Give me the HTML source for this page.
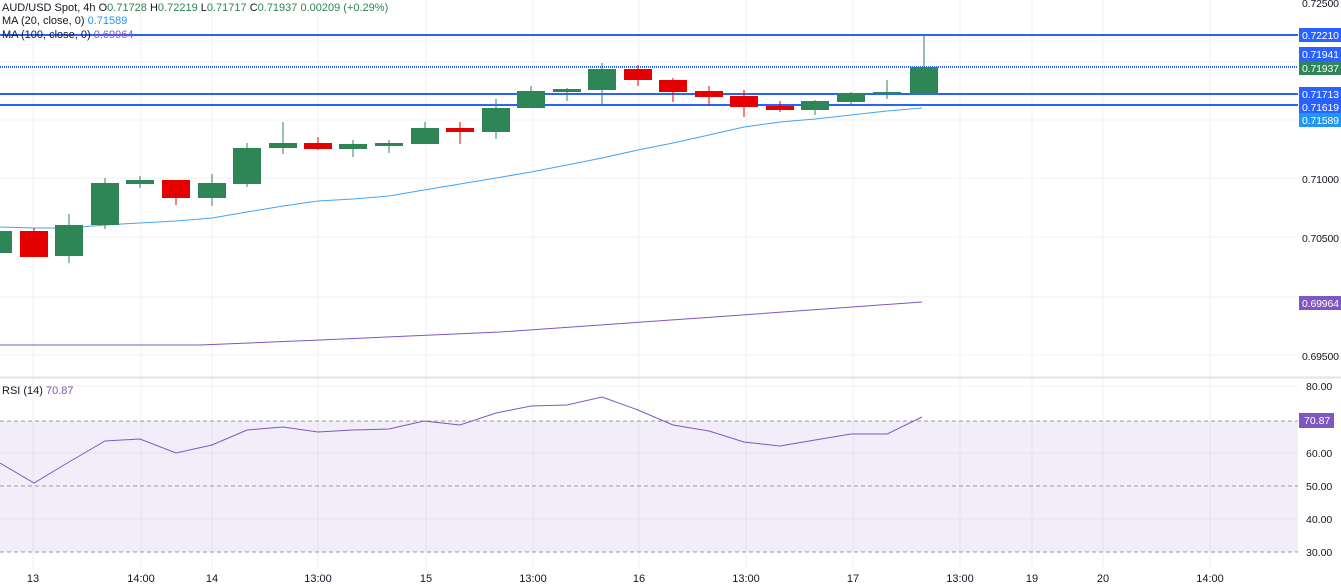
<!DOCTYPE html><html><head><meta charset="utf-8"><style>
body{margin:0;background:#fff;}svg{display:block;font-family:"Liberation Sans",sans-serif;}
</style></head><body>
<svg width="1341" height="586" xmlns="http://www.w3.org/2000/svg">
<g stroke="#f0f1f4" stroke-width="1">
<line x1="0" y1="62" x2="1298" y2="62"/><line x1="0" y1="120" x2="1298" y2="120"/><line x1="0" y1="178" x2="1298" y2="178"/><line x1="0" y1="237" x2="1298" y2="237"/><line x1="0" y1="297" x2="1298" y2="297"/><line x1="0" y1="355" x2="1298" y2="355"/>
<line x1="0" y1="386" x2="1298" y2="386"/><line x1="0" y1="453" x2="1298" y2="453"/><line x1="0" y1="519" x2="1298" y2="519"/>
<line x1="33" y1="0" x2="33" y2="568"/><line x1="141" y1="0" x2="141" y2="568"/><line x1="212" y1="0" x2="212" y2="568"/><line x1="318" y1="0" x2="318" y2="568"/><line x1="426" y1="0" x2="426" y2="568"/><line x1="533" y1="0" x2="533" y2="568"/><line x1="639" y1="0" x2="639" y2="568"/><line x1="746" y1="0" x2="746" y2="568"/><line x1="853" y1="0" x2="853" y2="568"/><line x1="960" y1="0" x2="960" y2="568"/><line x1="1032" y1="0" x2="1032" y2="568"/><line x1="1103" y1="0" x2="1103" y2="568"/><line x1="1210" y1="0" x2="1210" y2="568"/>
</g>
<line x1="0" y1="377.5" x2="1341" y2="377.5" stroke="#e0e3eb" stroke-width="2"/>
<rect x="0" y="421" width="1298" height="131" fill="#7e57c2" fill-opacity="0.1"/>
<g stroke="#9598a1" stroke-dasharray="4,3"><line x1="0" y1="421" x2="1298" y2="421"/><line x1="0" y1="486" x2="1298" y2="486"/><line x1="0" y1="552" x2="1298" y2="552"/></g>
<polyline fill="none" stroke="#7e57c2" stroke-width="1" points="0,463 34,483 69,462 105,441 140,439 176,453 212,445 247,430 283,427 318,432 353,430 389,429 424,421 460,425 496,413 531,406 567,405 602,397 638,410 673,425 709,431 744,442 780,446 815,440 851,434 887,434 922,417"/>
<polyline fill="none" stroke="#7e57c2" stroke-width="1" points="0,345 200,345 320,340 500,332 700,318 922,302"/>
<polyline fill="none" stroke="#42a5f5" stroke-width="1" points="0,227 34,228 69,228 105,225 140,223 176,221 212,218 247,212 283,206 318,201 353,199 389,196 424,190 460,184 496,178 531,172 567,165 602,158 638,150 673,143 709,135 744,127 780,122 815,119 851,115 887,111 922,108"/>
<g stroke="#2962ff" stroke-width="2"><line x1="0" y1="35" x2="1298" y2="35"/><line x1="0" y1="94" x2="1298" y2="94"/><line x1="0" y1="105" x2="1298" y2="105"/><line x1="0" y1="67" x2="1298" y2="67" stroke-dasharray="1,1"/></g>
<g stroke-width="1">
<line x1="-2" y1="225" x2="-2" y2="255" stroke="#2e8555"/><rect x="-16" y="231" width="28" height="22" fill="#2e8555"/>
<line x1="34" y1="228" x2="34" y2="257" stroke="#e50000"/><rect x="20" y="231" width="28" height="26" fill="#e50000"/>
<line x1="69" y1="214" x2="69" y2="263" stroke="#2e8555"/><rect x="55" y="225" width="28" height="31" fill="#2e8555"/>
<line x1="105" y1="178" x2="105" y2="229" stroke="#2e8555"/><rect x="91" y="183" width="28" height="42" fill="#2e8555"/>
<line x1="140" y1="176" x2="140" y2="188" stroke="#2e8555"/><rect x="126" y="180" width="28" height="4" fill="#2e8555"/>
<line x1="176" y1="180" x2="176" y2="205" stroke="#e50000"/><rect x="162" y="180" width="28" height="18" fill="#e50000"/>
<line x1="212" y1="174" x2="212" y2="206" stroke="#2e8555"/><rect x="198" y="183" width="28" height="15" fill="#2e8555"/>
<line x1="247" y1="143" x2="247" y2="187" stroke="#2e8555"/><rect x="233" y="148" width="28" height="36" fill="#2e8555"/>
<line x1="283" y1="122" x2="283" y2="154" stroke="#2e8555"/><rect x="269" y="143" width="28" height="5" fill="#2e8555"/>
<line x1="318" y1="137" x2="318" y2="150" stroke="#e50000"/><rect x="304" y="143" width="28" height="6" fill="#e50000"/>
<line x1="353" y1="140" x2="353" y2="157" stroke="#2e8555"/><rect x="339" y="144" width="28" height="5" fill="#2e8555"/>
<line x1="389" y1="140" x2="389" y2="153" stroke="#2e8555"/><rect x="375" y="143" width="28" height="3" fill="#2e8555"/>
<line x1="425" y1="122" x2="425" y2="144" stroke="#2e8555"/><rect x="411" y="128" width="28" height="16" fill="#2e8555"/>
<line x1="460" y1="122" x2="460" y2="144" stroke="#e50000"/><rect x="446" y="128" width="28" height="4" fill="#e50000"/>
<line x1="496" y1="99" x2="496" y2="139" stroke="#2e8555"/><rect x="482" y="108" width="28" height="24" fill="#2e8555"/>
<line x1="531" y1="86" x2="531" y2="108" stroke="#2e8555"/><rect x="517" y="91" width="28" height="17" fill="#2e8555"/>
<line x1="567" y1="88" x2="567" y2="101" stroke="#2e8555"/><rect x="553" y="89" width="28" height="3" fill="#2e8555"/>
<line x1="602" y1="63" x2="602" y2="104" stroke="#2e8555"/><rect x="588" y="69" width="28" height="21" fill="#2e8555"/>
<line x1="638" y1="65" x2="638" y2="86" stroke="#e50000"/><rect x="624" y="69" width="28" height="11" fill="#e50000"/>
<line x1="673" y1="78" x2="673" y2="102" stroke="#e50000"/><rect x="659" y="80" width="28" height="12" fill="#e50000"/>
<line x1="709" y1="86" x2="709" y2="106" stroke="#e50000"/><rect x="695" y="91" width="28" height="6" fill="#e50000"/>
<line x1="744" y1="90" x2="744" y2="117" stroke="#e50000"/><rect x="730" y="96" width="28" height="11" fill="#e50000"/>
<line x1="780" y1="101" x2="780" y2="112" stroke="#e50000"/><rect x="766" y="106" width="28" height="4" fill="#e50000"/>
<line x1="815" y1="100" x2="815" y2="115" stroke="#2e8555"/><rect x="801" y="101" width="28" height="9" fill="#2e8555"/>
<line x1="851" y1="92" x2="851" y2="105" stroke="#2e8555"/><rect x="837" y="93" width="28" height="9" fill="#2e8555"/>
<line x1="887" y1="80" x2="887" y2="99" stroke="#2e8555"/><rect x="873" y="92" width="28" height="2" fill="#2e8555"/>
<line x1="924" y1="35" x2="924" y2="94" stroke="#2e8555"/><rect x="910" y="67" width="28" height="27" fill="#2e8555"/>
</g>
<g font-size="10.5" fill="#131722">
<text x="1302" y="7" textLength="37">0.72500</text><text x="1302" y="183" textLength="37">0.71000</text><text x="1302" y="242" textLength="37">0.70500</text><text x="1302" y="360" textLength="37">0.69500</text>
<text x="1306" y="390">80.00</text><text x="1306" y="457">60.00</text><text x="1306" y="490">50.00</text><text x="1306" y="523">40.00</text><text x="1306" y="556">30.00</text>
</g>
<g font-size="10.5" fill="#fff">
<rect x="1299" y="28" width="42" height="14" fill="#2962ff"/><text x="1302" y="39" textLength="37">0.72210</text>
<rect x="1299" y="47" width="42" height="14" fill="#2962ff"/><text x="1302" y="58" textLength="37">0.71941</text>
<rect x="1299" y="61" width="42" height="14" fill="#2e8555"/><text x="1302" y="72" textLength="37">0.71937</text>
<rect x="1299" y="87" width="42" height="14" fill="#2962ff"/><text x="1302" y="98" textLength="37">0.71713</text>
<rect x="1299" y="100" width="42" height="14" fill="#2962ff"/><text x="1302" y="111" textLength="37">0.71619</text>
<rect x="1299" y="113" width="42" height="14" fill="#2196f3"/><text x="1302" y="124" textLength="37">0.71589</text>
<rect x="1299" y="296" width="42" height="14" fill="#7e57c2"/><text x="1302" y="307" textLength="37">0.69964</text>
<rect x="1299" y="413" width="35" height="15" fill="#7e57c2"/><text x="1304" y="424">70.87</text>
</g>
<g font-size="11" fill="#131722" text-anchor="middle">
<text x="33" y="582">13</text><text x="141" y="582">14:00</text><text x="212" y="582">14</text><text x="318" y="582">13:00</text><text x="426" y="582">15</text><text x="533" y="582">13:00</text><text x="639" y="582">16</text><text x="746" y="582">13:00</text><text x="853" y="582">17</text><text x="960" y="582">13:00</text><text x="1032" y="582">19</text><text x="1103" y="582">20</text><text x="1210" y="582">14:00</text>
</g>
<g font-size="11" fill="#131722">
<text x="2" y="11">AUD/USD Spot, 4h  O<tspan fill="#2e8555">0.71728</tspan>  H<tspan fill="#2e8555">0.72219</tspan>  L<tspan fill="#2e8555">0.71717</tspan>  C<tspan fill="#2e8555">0.71937</tspan>  <tspan fill="#2e8555">0.00209 (+0.29%)</tspan></text>
<text x="2" y="24">MA (20, close, 0)  <tspan fill="#2196f3">0.71589</tspan></text>
<text x="2" y="38">MA (100, close, 0)  <tspan fill="#7e57c2">0.69964</tspan></text>
<text x="2" y="394">RSI (14)  <tspan fill="#7e57c2">70.87</tspan></text>
</g>
</svg></body></html>
